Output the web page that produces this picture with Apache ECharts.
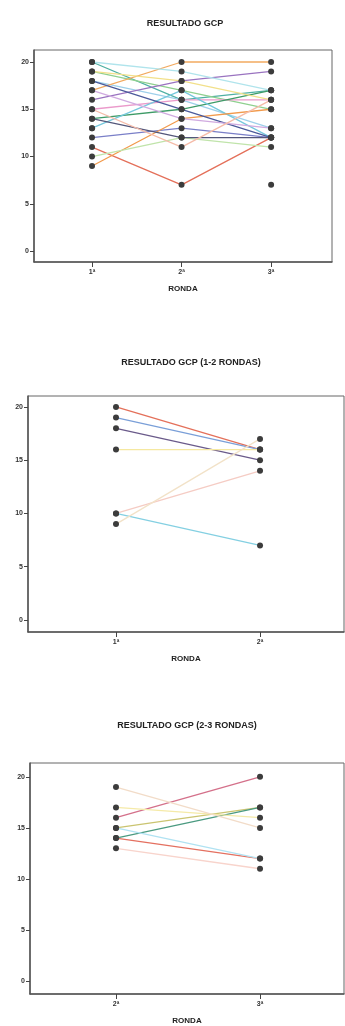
<!DOCTYPE html>
<html style="height: 100%">

<head>
    <meta charset="utf-8">
</head>

<body style="height: 100%; margin: 0; background: #fff">
    <div id="container" style="width: 345px; height: 1026px"></div>

    <script src="https://cdn.jsdelivr.net/npm/echarts@6/dist/echarts.min.js"></script>

    <script type="text/javascript">
        // datos: una fila por sujeto, un valor por ronda (null = sin dato)
        var rondasTodas = [1, 2, 3];
        var rondas12 = [1, 2];
        var rondas23 = [2, 3];
        var etiquetasRonda = { 1: '1ª', 2: '2ª', 3: '3ª' };
        var ticksY = [0, 5, 10, 15, 20];

        var gcpTodas = [
            [20, 16, 17],
            [19, 17, 15],
            [18, 16, 13],
            [17, 20, 20],
            [16, 18, 19],
            [15, 16, 16],
            [14, 15, 17],
            [13, 17, 12],
            [12, 13, 12],
            [11, 7, 12],
            [9, 14, 15],
            [10, 12, 11],
            [20, 19, 17],
            [19, 18, 16],
            [18, 15, 12],
            [14, 12, 12],
            [17, 14, 13],
            [15, 11, 16],
            [13, null, 7]
        ];

        var gcp12 = [
            [20, 16],
            [19, 16],
            [18, 15],
            [16, 16],
            [10, 14],
            [10, 7],
            [9, 17]
        ];

        var gcp23 = [
            [16, 20],
            [15, 17],
            [14, 17],
            [14, 12],
            [15, 12],
            [17, 16],
            [19, 15],
            [13, 11]
        ];

        // colores de linea (estilo SPSS)
        var colores1 = ['#4fb0a3', '#8fd08f', '#9ed0ea', '#f2aa60', '#9a73c0', '#eb9acb', '#3e9b67',
            '#76c8dd', '#7a7fc8', '#e4705a', '#f29a4c', '#c0e4aa', '#b0e4ec', '#f2e08a', '#4b5a9a',
            '#54577a', '#d0aae0', '#f5bba8', '#aaaaaa'];
        var colores2 = ['#e4705a', '#7a9fd8', '#6a5a8a', '#f5e8a0', '#f5ccc4', '#84d0e2', '#f2e2c8'];
        var colores3 = ['#d4708a', '#cac470', '#4a9a80', '#e47060', '#b0e2f2', '#f5eaa8', '#f2dcc8', '#f8d4cc'];

        var myChart = echarts.init(document.getElementById('container'));

        var fuente = 'Liberation Sans';

        function ejeX(idx, min, max, valores) {
            return {
                gridIndex: idx,
                type: 'value',
                min: min,
                max: max,
                name: 'RONDA',
                nameLocation: 'middle',
                nameGap: 23,
                nameTextStyle: { fontSize: 8, fontWeight: 'bold', color: '#222', fontFamily: fuente },
                splitLine: { show: false },
                axisLine: { onZero: false, lineStyle: { color: '#555', width: 1.5 } },
                axisTick: { customValues: valores, length: 5, lineStyle: { color: '#444' } },
                axisLabel: {
                    customValues: valores,
                    fontSize: 7, color: '#333', fontWeight: 'bold', margin: 7, fontFamily: fuente,
                    formatter: function (v) { return etiquetasRonda[v]; }
                }
            };
        }

        function ejeY(idx, min, max) {
            return {
                gridIndex: idx,
                type: 'value',
                min: min,
                max: max,
                splitLine: { show: false },
                axisLine: { show: true, onZero: false, lineStyle: { color: '#555', width: 1.5 } },
                axisTick: { show: true, customValues: ticksY, length: 4, lineStyle: { color: '#444' } },
                axisLabel: { customValues: ticksY, fontSize: 7, color: '#333', fontWeight: 'bold', margin: 5, fontFamily: fuente }
            };
        }

        function series(datos, rondas, colores, idx) {
            return datos.map(function (fila, i) {
                return {
                    type: 'line',
                    xAxisIndex: idx,
                    yAxisIndex: idx,
                    data: fila.map(function (v, j) { return [rondas[j], v]; }),
                    symbol: 'circle',
                    symbolSize: 6,
                    itemStyle: { color: '#3c3c3c' },
                    lineStyle: { color: colores[i % colores.length], width: 1.3 },
                    emphasis: { disabled: true },
                    animation: false,
                    z: 2
                };
            });
        }

        var option = {
            backgroundColor: '#fff',
            animation: false,
            title: [
                { text: 'RESULTADO GCP', left: 180, top: 14, textAlign: 'center',
                  textStyle: { fontSize: 9, fontWeight: 'bold', color: '#222', fontFamily: fuente } },
                { text: 'RESULTADO GCP (1-2 RONDAS)', left: 186, top: 353, textAlign: 'center',
                  textStyle: { fontSize: 9, fontWeight: 'bold', color: '#222', fontFamily: fuente } },
                { text: 'RESULTADO GCP (2-3 RONDAS)', left: 182, top: 716, textAlign: 'center',
                  textStyle: { fontSize: 9, fontWeight: 'bold', color: '#222', fontFamily: fuente } }
            ],
            grid: [
                { left: 34, top: 50, width: 298, height: 212, show: true, borderColor: '#666', borderWidth: 1 },
                { left: 28, top: 396, width: 316, height: 236, show: true, borderColor: '#666', borderWidth: 1 },
                { left: 30, top: 763, width: 314, height: 234, show: true, borderColor: '#666', borderWidth: 1 }
            ],
            xAxis: [
                ejeX(0, 0.352, 3.68, rondasTodas),
                ejeX(1, 0.389, 2.583, rondas12),
                ejeX(2, 1.403, 3.583, rondas23)
            ],
            yAxis: [
                ejeY(0, -1.16, 21.27),
                ejeY(1, -1.13, 21.03),
                ejeY(2, -1.26, 21.35)
            ],
            series: [].concat(
                series(gcpTodas, rondasTodas, colores1, 0),
                series(gcp12, rondas12, colores2, 1),
                series(gcp23, rondas23, colores3, 2)
            )
        };

        myChart.setOption(option);
    </script>
</body>

</html>
